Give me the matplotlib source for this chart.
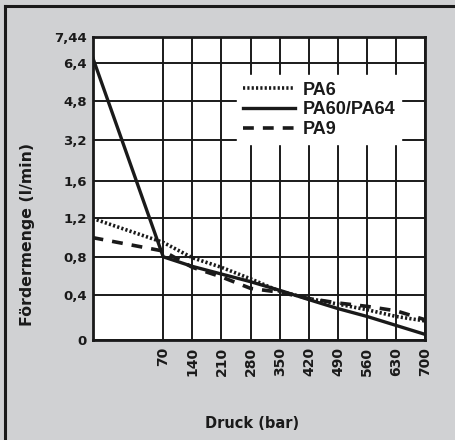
import numpy as np
import matplotlib
matplotlib.use("Agg")
import matplotlib.pyplot as plt
from matplotlib.lines import Line2D

# Daten
druck = [0, 70, 140, 210, 280, 350, 420, 490, 560, 630, 700]
pa6 = [1.2, 0.95, 0.79, 0.69, 0.57, 0.44, 0.37, 0.32, 0.27, 0.21, 0.17]
pa60 = [6.65, 0.8, 0.70, 0.62, 0.54, 0.45, 0.36, 0.28, 0.21, 0.13, 0.05]
pa9 = [1.0, 0.86, 0.69, 0.59, 0.47, 0.43, 0.37, 0.33, 0.30, 0.26, 0.18]

x_ticks = [70, 140, 210, 280, 350, 420, 490, 560, 630, 700]
y_ticks = [0, 0.4, 0.8, 1.2, 1.6, 3.2, 4.8, 6.4, 7.44]
y_labels = ["0", "0,4", "0,8", "1,2", "1,6", "3,2", "4,8", "6,4", "7,44"]

# nicht-lineare Achsen (stückweise linear)
x_knot = [0, 70, 700]
x_pos = [0, 70.6, 332.6]
y_pos = [0, 45, 83.3, 121.7, 159.3, 200, 239.3, 276.7, 302.7]

def fx(v):
    return np.interp(v, x_knot, x_pos)
def fx_inv(v):
    return np.interp(v, x_pos, x_knot)
def fy(v):
    return np.interp(v, y_ticks, y_pos)
def fy_inv(v):
    return np.interp(v, y_pos, y_ticks)

grau = "#d0d1d3"

fig = plt.figure(figsize=(4.56, 4.4), dpi=100, facecolor=grau)
ax = fig.add_axes([0.203, 0.227, 0.73, 0.688])
ax.set_xscale("function", functions=(fx, fx_inv))
ax.set_yscale("function", functions=(fy, fy_inv))
ax.set_xlim(0, 700)
ax.set_ylim(0, 7.44)

ax.plot(druck, pa6, color="#1a1a1a", lw=2.6, linestyle=(0, (0.6, 0.6)), label="PA6", zorder=3)
ax.plot(druck, pa60, color="#1a1a1a", lw=2.4, label="PA60/PA64", zorder=4)
ax.plot(druck, pa9, color="#1a1a1a", lw=2.6, linestyle=(0, (3, 2.5)), label="PA9", zorder=3)

for xt in x_ticks:
    ax.axvline(xt, color="#1a1a1a", lw=1.4, zorder=1)
for yt in y_ticks:
    ax.axhline(yt, color="#1a1a1a", lw=1.4, zorder=1)

ax.set_xticks(x_ticks)
ax.set_xticklabels([str(t) for t in x_ticks], rotation=90)
ax.set_yticks(y_ticks)
ax.set_yticklabels(y_labels)
ax.tick_params(length=0)
ax.tick_params(axis="x", pad=5, labelsize=10)
ax.tick_params(axis="y", pad=4, labelsize=9.5)
for lab in ax.get_xticklabels() + ax.get_yticklabels():
    lab.set_fontweight("heavy")
    lab.set_color("#1a1a1a")

for s in ax.spines.values():
    s.set_linewidth(2)
    s.set_color("#1a1a1a")

ax.set_xlabel("Druck (bar)", fontsize=10.5, fontweight="heavy", color="#1a1a1a")
ax.set_ylabel("Fördermenge (l/min)", fontsize=11.3, fontweight="heavy", color="#1a1a1a")
ax.xaxis.set_label_coords(0.479, -0.25)
ax.yaxis.set_label_coords(-0.173, 0.35)

leg = ax.legend(loc="upper right", bbox_to_anchor=(0.955, 0.905), frameon=True,
                fancybox=False, edgecolor="white", facecolor="white", framealpha=1,
                handlelength=2.9, handletextpad=0.4, labelspacing=0.15, borderpad=0.35,
                prop={"family": "Liberation Sans", "weight": "bold", "size": 13})
leg.set_zorder(5)
for t in leg.get_texts():
    t.set_color("#1a1a1a")

# Rahmen oben und links
fig.add_artist(Line2D([5 / 456, 1], [1 - 6 / 440, 1 - 6 / 440], color="#1a1a1a", lw=2.2,
                      transform=fig.transFigure))
fig.add_artist(Line2D([5 / 456, 5 / 456], [0, 1 - 6 / 440], color="#1a1a1a", lw=2.2,
                      transform=fig.transFigure))

fig.savefig("out.png", dpi=100, facecolor=grau)
